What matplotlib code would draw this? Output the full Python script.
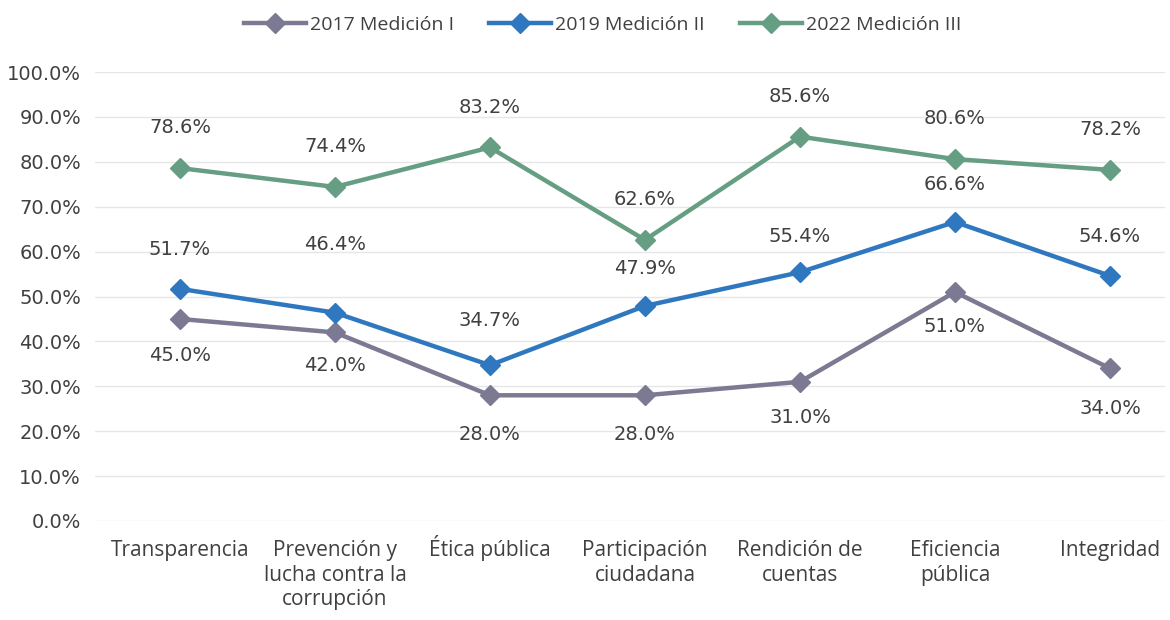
import matplotlib
matplotlib.use("Agg")
import matplotlib.pyplot as plt
import matplotlib.transforms as mtransforms

categories = ["Transparencia", "Prevención y\nlucha contra la\ncorrupción", "Ética pública",
              "Participación\nciudadana", "Rendición de\ncuentas", "Eficiencia\npública", "Integridad"]
series_names = ["2017 Medición I", "2019 Medición II", "2022 Medición III"]
v2017 = [45.0, 42.0, 28.0, 28.0, 31.0, 51.0, 34.0]
v2019 = [51.7, 46.4, 34.7, 47.9, 55.4, 66.6, 54.6]
v2022 = [78.6, 74.4, 83.2, 62.6, 85.6, 80.6, 78.2]
yticks = [0, 10, 20, 30, 40, 50, 60, 70, 80, 90, 100]

COLORS = ["#7C7A92", "#2F78C0", "#659E82"]
# label offsets in points (vertical), per series and category
OFFSETS = [
    [-26, -24, -28, -28, -26, -25, -29],
    [28, 49, 32, 27, 26, 27, 28],
    [29, 29, 29, 29, 29, 29, 29],
]

fig = plt.figure(figsize=(11.7, 6.2), dpi=100)
ax = fig.add_axes([95 / 1170, 99 / 620, 1070 / 1170, 449 / 620])

x = list(range(len(categories)))
for vals, name, col, offs in zip([v2017, v2019, v2022], series_names, COLORS, OFFSETS):
    ax.plot(x, vals, color=col, lw=3.2, marker="D", markersize=10,
            markerfacecolor=col, markeredgecolor=col, label=name, zorder=3)
    for xi, v, o in zip(x, vals, offs):
        ax.annotate(f"{v:.1f}%", (xi, v), xytext=(0, o), textcoords="offset points",
                    ha="center", va="center", fontsize=14, color="#404040",
                    family="DejaVu Sans")

ax.set_xlim(-0.548, 6.355)
ax.set_ylim(0, 100)
ax.set_yticks(yticks)
ax.set_yticklabels([f"{t:.1f}%" for t in yticks], fontsize=14, color="#404040",
                   family="DejaVu Sans")
ax.set_xticks(x)
ax.set_xticklabels(categories, fontsize=15, color="#404040", family="Open Sans",
                   linespacing=1.2, va="top")
ax.tick_params(length=0, pad=10)
ax.tick_params(axis="x", pad=14)
# the accented capital pushes this label down; lift it to line up with the others
lbl = ax.get_xticklabels()[2]
lbl.set_transform(lbl.get_transform() + mtransforms.ScaledTranslation(0, 4 / 72, fig.dpi_scale_trans))
ax.yaxis.grid(True, color="#E6E6E6", lw=1)
ax.set_axisbelow(True)
for s in ax.spines.values():
    s.set_visible(False)

leg = fig.legend(loc="center", bbox_to_anchor=(0.515, 0.96), ncol=3, frameon=False,
                 handlelength=3.2, handletextpad=0.2, columnspacing=1.8,
                 prop={"family": "Open Sans", "size": 14})
for t in leg.get_texts():
    t.set_color("#404040")

fig.savefig("out.png", dpi=100)
